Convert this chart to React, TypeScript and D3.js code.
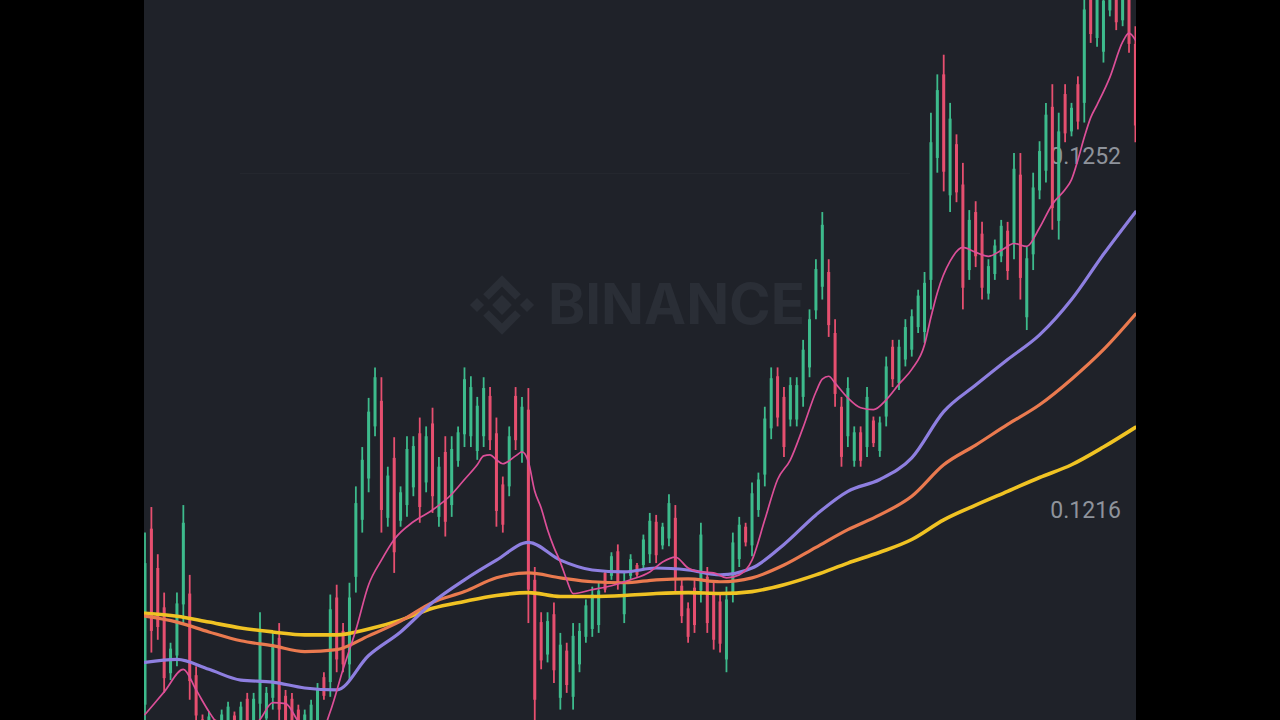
import React from 'react';
import * as d3 from 'd3';

// ---- candle data (price) ----
const openP = [0.11961,0.12140,0.12100,0.12060,0.11993,0.12011,0.12063,0.12074,0.11991,0.11946,
0.11925,0.11941,0.11931,0.11936,0.11950,0.11936,0.11967,0.11942,0.11962,0.11947,
0.11968,0.12029,0.11970,0.11967,0.11956,0.11931,0.11936,0.11943,0.11989,0.11984,
0.12070,0.12036,0.12002,0.12091,0.12149,0.12191,0.12244,0.12270,0.12151,0.12212,
0.12148,0.12164,0.12182,0.12237,0.12187,0.12247,0.12152,0.12218,0.12164,0.12209,
0.12236,0.12234,0.12219,0.12234,0.12275,0.12237,0.12185,0.12183,0.12275,0.12217,
0.12261,0.12088,0.12045,0.12012,0.12053,0.11968,0.12016,0.11969,0.12002,0.12030,
0.12038,0.12042,0.12095,0.12092,0.12117,0.12053,0.12092,0.12103,0.12103,0.12114,
0.12147,0.12123,0.12130,0.12151,0.12082,0.12059,0.12080,0.12077,0.12091,0.12075,
0.12066,0.12007,0.12075,0.12109,0.12142,0.12123,0.12159,0.12195,0.12242,0.12295,
0.12274,0.12251,0.12251,0.12274,0.12304,0.12362,0.12386,0.12401,0.12339,0.12264,
0.12234,0.12209,0.12238,0.12223,0.12250,0.12219,0.12254,0.12325,0.12288,0.12312,
0.12322,0.12345,0.12340,0.12393,0.12517,0.12602,0.12479,0.12531,0.12490,0.12403,
0.12462,0.12440,0.12379,0.12399,0.12417,0.12443,0.12430,0.12500,0.12355,0.12419,
0.12484,0.12504,0.12569,0.12453,0.12582,0.12544,0.12592,0.12573,0.12689,0.12639,
0.12625,0.12667,0.12691,0.12657,0.12679,0.12633];

const highP = [0.12136,0.12162,0.12114,0.12075,0.12024,0.12075,0.12164,0.12093,0.12000,0.11951,
0.11954,0.11946,0.11956,0.11964,0.11954,0.11964,0.11973,0.11973,0.12055,0.11979,
0.12034,0.12044,0.11976,0.11973,0.11961,0.11956,0.11966,0.11983,0.11994,0.12073,
0.12083,0.12044,0.12085,0.12183,0.12223,0.12273,0.12304,0.12294,0.12203,0.12233,
0.12183,0.12234,0.12234,0.12253,0.12244,0.12263,0.12213,0.12234,0.12234,0.12244,
0.12304,0.12295,0.12274,0.12294,0.12284,0.12253,0.12193,0.12244,0.12284,0.12274,
0.12283,0.12101,0.12055,0.12055,0.12065,0.12034,0.12024,0.12044,0.12044,0.12068,
0.12081,0.12085,0.12098,0.12116,0.12124,0.12095,0.12114,0.12105,0.12134,0.12156,
0.12154,0.12146,0.12175,0.12164,0.12088,0.12065,0.12088,0.12146,0.12101,0.12085,
0.12075,0.12081,0.12136,0.12152,0.12146,0.12187,0.12197,0.12264,0.12304,0.12304,
0.12284,0.12294,0.12294,0.12332,0.12363,0.12414,0.12462,0.12414,0.12353,0.12274,
0.12294,0.12244,0.12244,0.12284,0.12254,0.12254,0.12315,0.12332,0.12332,0.12353,
0.12363,0.12383,0.12401,0.12563,0.12602,0.12622,0.12573,0.12541,0.12512,0.12464,
0.12473,0.12452,0.12414,0.12434,0.12454,0.12452,0.12522,0.12522,0.12427,0.12502,
0.12534,0.12573,0.12592,0.12563,0.12592,0.12573,0.12600,0.12688,0.12698,0.12693,
0.12688,0.12703,0.12698,0.12693,0.12688,0.12651];

const lowP = [0.11931,0.12014,0.12027,0.11973,0.11986,0.12000,0.12044,0.11966,0.11941,0.11920,
0.11920,0.11915,0.11925,0.11931,0.11925,0.11931,0.11936,0.11936,0.11946,0.11941,
0.11956,0.11941,0.11936,0.11931,0.11925,0.11925,0.11931,0.11936,0.11966,0.11969,
0.11994,0.11994,0.11986,0.12075,0.12136,0.12177,0.12234,0.12136,0.12142,0.12095,
0.12142,0.12152,0.12173,0.12146,0.12177,0.12156,0.12142,0.12132,0.12152,0.12203,
0.12223,0.12223,0.12210,0.12223,0.12220,0.12142,0.12136,0.12173,0.12220,0.12207,
0.12044,0.11936,0.11997,0.12004,0.11983,0.11956,0.11973,0.11956,0.11994,0.12024,
0.12030,0.12034,0.12075,0.12088,0.12078,0.12044,0.12088,0.12091,0.12098,0.12105,
0.12105,0.12119,0.12122,0.12075,0.12044,0.12024,0.12034,0.12065,0.12034,0.12017,
0.12014,0.11994,0.12065,0.12101,0.12122,0.12112,0.12152,0.12183,0.12231,0.12244,
0.12213,0.12244,0.12244,0.12264,0.12294,0.12353,0.12373,0.12335,0.12264,0.12203,
0.12223,0.12203,0.12203,0.12213,0.12223,0.12213,0.12244,0.12284,0.12281,0.12305,
0.12315,0.12339,0.12329,0.12363,0.12502,0.12483,0.12462,0.12472,0.12363,0.12393,
0.12406,0.12373,0.12373,0.12393,0.12411,0.12393,0.12414,0.12373,0.12342,0.12403,
0.12475,0.12492,0.12444,0.12434,0.12533,0.12539,0.12546,0.12553,0.12634,0.12630,
0.12614,0.12661,0.12647,0.12651,0.12624,0.12533];

const closeP = [0.12105,0.12036,0.12040,0.11988,0.12018,0.12064,0.12146,0.11985,0.11950,0.11925,
0.11949,0.11920,0.11951,0.11959,0.11929,0.11959,0.11942,0.11967,0.12038,0.11973,
0.12022,0.11956,0.11942,0.11937,0.11931,0.11951,0.11961,0.11976,0.11970,0.12058,
0.12007,0.12002,0.12070,0.12166,0.12210,0.12259,0.12294,0.12159,0.12194,0.12116,
0.12177,0.12221,0.12224,0.12162,0.12234,0.12173,0.12203,0.12147,0.12221,0.12238,
0.12292,0.12284,0.12265,0.12283,0.12230,0.12158,0.12144,0.12234,0.12230,0.12264,
0.12078,0.11966,0.12006,0.12046,0.11996,0.12022,0.11981,0.12031,0.12036,0.12062,
0.12073,0.12077,0.12078,0.12112,0.12085,0.12087,0.12109,0.12093,0.12129,0.12148,
0.12113,0.12142,0.12166,0.12088,0.12051,0.12030,0.12042,0.12134,0.12044,0.12027,
0.12023,0.12068,0.12126,0.12144,0.12126,0.12176,0.12190,0.12252,0.12293,0.12253,
0.12223,0.12286,0.12286,0.12322,0.12353,0.12404,0.12449,0.12347,0.12277,0.12213,
0.12283,0.12238,0.12209,0.12274,0.12227,0.12248,0.12305,0.12292,0.12325,0.12345,
0.12356,0.12377,0.12390,0.12533,0.12586,0.12503,0.12557,0.12482,0.12385,0.12454,
0.12417,0.12385,0.12407,0.12428,0.12448,0.12402,0.12506,0.12395,0.12415,0.12487,
0.12524,0.12561,0.12466,0.12544,0.12542,0.12568,0.12554,0.12668,0.12643,0.12684,
0.12677,0.12697,0.12655,0.12687,0.12633,0.12550];

// ---- moving averages ----
const maSlowIdx = [0,5,10,15,20,25,30,35,40,45,50,55,60,65,70,75,80,85,90,95,100,105,110,115,120,125,130,135,140,145,150,155];
const maPurple = [0.12004,0.12007,0.11997,0.11986,0.11984,0.11978,0.11976,0.12011,0.12035,0.12065,0.12088,0.12108,0.12126,0.12108,0.12098,0.12096,0.12100,0.12098,0.12093,0.12100,0.12124,0.12154,0.12178,0.12190,0.12212,0.12259,0.12286,0.12312,0.12337,0.12373,0.12419,0.12462];
const maOrange = [0.12051,0.12045,0.12035,0.12026,0.12021,0.12015,0.12017,0.12031,0.12046,0.12065,0.12076,0.12090,0.12095,0.12090,0.12086,0.12085,0.12088,0.12089,0.12086,0.12090,0.12103,0.12121,0.12139,0.12154,0.12173,0.12205,0.12225,0.12246,0.12266,0.12292,0.12322,0.12358];
const maYellow = [0.12054,0.12051,0.12045,0.12039,0.12035,0.12032,0.12032,0.12038,0.12047,0.12059,0.12066,0.12072,0.12075,0.12071,0.12071,0.12072,0.12074,0.12075,0.12074,0.12076,0.12083,0.12093,0.12105,0.12116,0.12129,0.12149,0.12164,0.12178,0.12192,0.12205,0.12223,0.12243];

const maPinkIdx = [0,3,6,8,10,12,15,18,20,22,24,27,29,31,33,35,37,39,42,45,48,50,52,53,54,55,56,58,59,60,61,62,63,64,65,66,67,70,73,76,79,81,83,85,87,89,91,93,95,97,99,101,103,105,106,107,108,110,112,114,116,118,120,122,123,124,126,128,130,132,134,136,138,140,142,144,145,146,147,148,149,151,153,154,155];
const maPink = [0.11951,0.11974,0.11997,0.11976,0.11954,0.11936,0.11925,0.11946,0.11963,0.11962,0.11944,0.11925,0.11954,0.11997,0.12037,0.12083,0.12108,0.12129,0.12147,0.12159,0.12175,0.12190,0.12205,0.12214,0.12215,0.12210,0.12206,0.12214,0.12218,0.12208,0.12178,0.12161,0.12139,0.12121,0.12106,0.12088,0.12074,0.12078,0.12082,0.12088,0.12096,0.12106,0.12111,0.12100,0.12096,0.12095,0.12090,0.12093,0.12108,0.12149,0.12190,0.12210,0.12243,0.12279,0.12292,0.12295,0.12288,0.12273,0.12263,0.12261,0.12271,0.12287,0.12302,0.12327,0.12355,0.12380,0.12412,0.12426,0.12421,0.12417,0.12423,0.12430,0.12427,0.12446,0.12470,0.12485,0.12495,0.12515,0.12538,0.12558,0.12571,0.12599,0.12635,0.12644,0.12637];

const tickPrices = [0.1252, 0.1216];

const UP = '#3dbb8c';
const DOWN = '#e64f6f';

export default function App() {
  const W = 1280, H = 720;
  const panelX0 = 144, panelX1 = 1136;
  const n = openP.length;
  const x = d3.scaleBand<number>().domain(d3.range(n)).range([141.8, 1138.6]).padding(0);
  const y = d3.scaleLinear().domain([0.1216, 0.1252]).range([509, 155]);
  const cx = (i: number) => (x(i) as number) + x.bandwidth() / 2;

  const mkLine = (idx: number[], vals: number[]) =>
    d3.line<number>()
      .x((_, k) => cx(idx[k]))
      .y((v) => y(v))
      .curve(d3.curveMonotoneX)(vals) || '';

  const bodyW = 3;

  return (
    <svg width={W} height={H} style={{ position: 'absolute', left: 0, top: 0, display: 'block' }}>
      <defs>
        <clipPath id="panel">
          <rect x={panelX0} y={0} width={panelX1 - panelX0} height={H} />
        </clipPath>
      </defs>
      <rect x={0} y={0} width={W} height={H} fill="#000" />
      <rect x={panelX0} y={0} width={panelX1 - panelX0} height={H} fill="#1f2229" />
      {/* faint grid line */}
      <line x1={240} x2={910} y1={173.5} y2={173.5} stroke="#24272e" strokeWidth={1} />
      {/* watermark */}
      <g fill="#2a2e36" stroke="none">
        <g transform="translate(502,305)">
          <rect x={-7} y={-7} width={14} height={14} transform="rotate(45)" />
          <rect x={-5} y={-5} width={10} height={10} transform="translate(-25,0) rotate(45)" />
          <rect x={-5} y={-5} width={10} height={10} transform="translate(25,0) rotate(45)" />
          <path d="M -16,-8 L 0,-24 L 16,-8" fill="none" stroke="#2a2e36" strokeWidth={8} strokeLinejoin="miter" />
          <path d="M -16,8 L 0,24 L 16,8" fill="none" stroke="#2a2e36" strokeWidth={8} strokeLinejoin="miter" />
        </g>
        <text x={548} y={324} fontFamily="Inter, 'Open Sans', sans-serif" fontWeight={700} fontSize={56}
          textLength={257} lengthAdjust="spacingAndGlyphs">BINANCE</text>
      </g>
      {/* price labels */}
      {tickPrices.map((p) => (
        <text key={p} x={1121} y={y(p) + 8.5} textAnchor="end" fontFamily="Roboto, 'Noto Sans', sans-serif"
          fontSize={23} fill="#8e939b">{p.toFixed(4)}</text>
      ))}
      <g clipPath="url(#panel)">
        {/* candles */}
        {openP.map((o, i) => {
          const c = closeP[i];
          const up = c >= o;
          const col = up ? UP : DOWN;
          const xc = cx(i);
          const top = y(Math.max(o, c));
          const bot = y(Math.min(o, c));
          return (
            <g key={i}>
              <line x1={xc} x2={xc} y1={y(highP[i])} y2={y(lowP[i])} stroke={col} strokeWidth={1.8} />
              <rect x={xc - bodyW / 2} y={top} width={bodyW} height={Math.max(1, bot - top)} fill={col} />
            </g>
          );
        })}
        {/* moving averages */}
        <path d={mkLine(maSlowIdx, maYellow)} fill="none" stroke="#f0c323" strokeWidth={3.6} strokeLinecap="round" />
        <path d={mkLine(maSlowIdx, maOrange)} fill="none" stroke="#ea7a4f" strokeWidth={3.2} strokeLinecap="round" />
        <path d={mkLine(maSlowIdx, maPurple)} fill="none" stroke="#8e7fe0" strokeWidth={3.2} strokeLinecap="round" />
        <path d={mkLine(maPinkIdx, maPink)} fill="none" stroke="#dc4f98" strokeWidth={1.7} strokeLinecap="round" />
      </g>
    </svg>
  );
}
